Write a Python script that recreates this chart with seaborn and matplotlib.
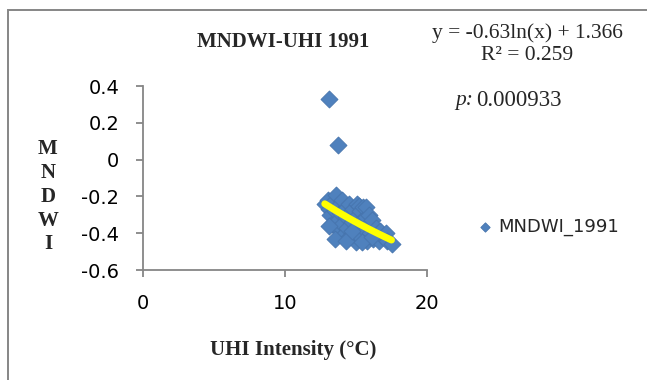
import numpy as np
import pandas as pd
import matplotlib
matplotlib.use("Agg")
import matplotlib.pyplot as plt
import seaborn as sns
from matplotlib.patches import Rectangle

# UHI intensity (deg C) vs MNDWI, 1991
uhi = [13.1, 13.75,
       12.8, 13.0, 13.1, 13.2, 13.3, 13.4, 13.5, 13.6, 13.7, 13.7,
       13.8, 13.9, 14.0, 14.0, 14.1, 14.2, 14.3, 14.4, 14.5, 14.5,
       14.6, 14.7, 14.8, 14.9, 15.0, 15.0, 15.1, 15.2, 15.2, 15.3,
       15.3, 15.4, 15.5, 15.6, 15.7, 15.7, 15.8, 15.9, 15.9, 16.0,
       16.1, 16.2, 16.4, 16.5, 16.6, 16.7, 16.9, 17.1, 17.2, 17.5,
       13.1, 13.5, 14.3, 14.7, 15.4, 16.1]
mndwi = [0.33, 0.08,
         -0.24, -0.22, -0.27, -0.30, -0.35, -0.23, -0.28, -0.19, -0.25, -0.33,
         -0.38, -0.29, -0.22, -0.35, -0.41, -0.27, -0.31, -0.37, -0.24, -0.42,
         -0.29, -0.34, -0.27, -0.40, -0.45, -0.31, -0.24, -0.36, -0.25, -0.28,
         -0.42, -0.33, -0.26, -0.38, -0.31, -0.26, -0.44, -0.35, -0.30, -0.40,
         -0.33, -0.43, -0.37, -0.41, -0.44, -0.39, -0.42, -0.40, -0.44, -0.46,
         -0.36, -0.43, -0.44, -0.39, -0.45, -0.42]

# log trendline from the chart
coef_a = -0.63
coef_b = 1.366
r2 = 0.259
p_val = "0.000933"

df = pd.DataFrame({"UHI": uhi, "MNDWI_1991": mndwi})
xs = np.linspace(min(uhi), max(uhi), 50)
trend = pd.DataFrame({"x": xs, "y": coef_a * np.log(xs) + coef_b})

sns.set_style("white")
plt.rcParams["font.family"] = ["DejaVu Sans"]
serif = "Liberation Serif"
gray = "#868686"

fig = plt.figure(figsize=(6.47, 3.8), dpi=100)
ax = fig.add_axes([143 / 647, 1 - 270 / 380, (427 - 143) / 647, (270 - 86) / 380])

sns.scatterplot(data=df, x="UHI", y="MNDWI_1991", marker="D", s=75,
                color="#4F81BD", edgecolor="#4674ad", linewidth=0.6,
                label="MNDWI_1991", ax=ax, zorder=2)
sns.lineplot(data=trend, x="x", y="y", color="#FFFF00", linewidth=5,
             solid_capstyle="round", ax=ax, zorder=3, legend=False)

ax.set_xlim(0, 20)
ax.set_ylim(-0.6, 0.4)
ax.set_xticks([0, 10, 20])
ax.set_yticks([0.4, 0.2, 0, -0.2, -0.4, -0.6])
ax.set_yticklabels(["0.4", "0.2", "0", "-0.2", "-0.4", "-0.6"])
ax.set_xlabel("")
ax.set_ylabel("")
sns.despine(ax=ax)
for side in ["left", "bottom"]:
    ax.spines[side].set_color(gray)
    ax.spines[side].set_linewidth(1.3)
ax.tick_params(axis="both", direction="out", length=5, width=1.3, color=gray,
               labelsize=14, labelcolor="black", pad=12, left=True, bottom=True)

leg = ax.legend(loc="center left", bbox_to_anchor=(478 / 647, 1 - 227 / 380),
                bbox_transform=fig.transFigure, frameon=False, fontsize=13,
                handlelength=0.8, handletextpad=0.3, borderaxespad=0,
                borderpad=0, markerscale=0.55)

fig.text(283 / 647, 1 - 42 / 380, "MNDWI-UHI 1991", family=serif,
         fontweight="bold", fontsize=15, ha="center", va="center")
fig.text(527 / 647, 1 - 33 / 380, f"y = {coef_a}ln(x) + {coef_b}", family=serif,
         fontsize=15.5, ha="center", va="center")
fig.text(527 / 647, 1 - 55 / 380, f"R² = {r2}", family=serif,
         fontsize=15.5, ha="center", va="center")
fig.text(455 / 647, 1 - 101 / 380, "p:", family=serif, style="italic",
         fontsize=15.5, ha="left", va="center")
fig.text(476 / 647, 1 - 101 / 380, p_val, family=serif,
         fontsize=16.5, ha="left", va="center")
fig.text(293 / 647, 1 - 350 / 380, "UHI Intensity (°C)", family=serif,
         fontweight="bold", fontsize=15, ha="center", va="center")
fig.text(48 / 647, 1 - 197 / 380, "M\nN\nD\nW\nI", family=serif,
         fontweight="bold", fontsize=15, ha="center", va="center",
         linespacing=1.25)

# chart area border
fig.patches.append(Rectangle((8 / 647, -0.1), 1.2, 1.1 - 10 / 380,
                             transform=fig.transFigure, fill=False,
                             edgecolor=gray, linewidth=1.4))

plt.savefig("out.png", dpi=100)
plt.close()
